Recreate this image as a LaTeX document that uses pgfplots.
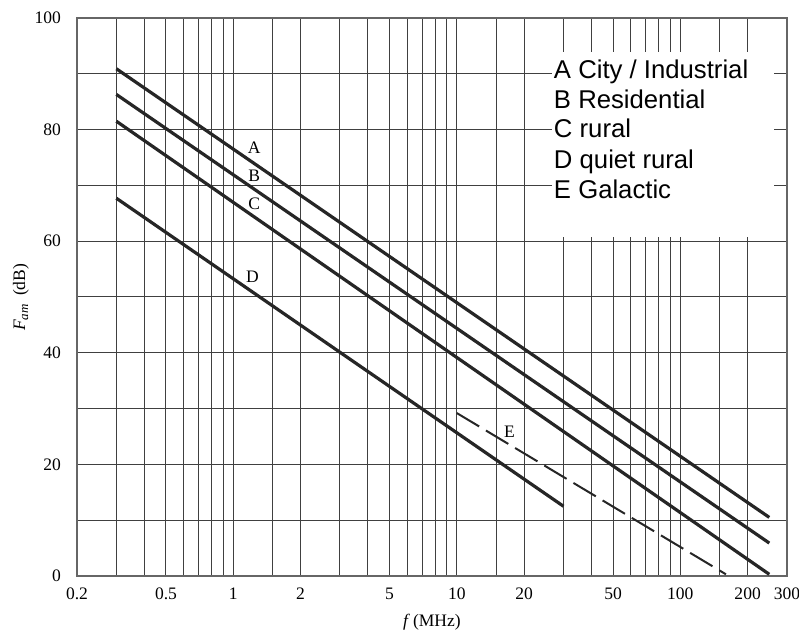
\documentclass[border=0pt]{standalone}
\usepackage{fontspec}
\setmainfont{Liberation Serif}
\newfontfamily\arialf{Liberation Sans}
\usepackage{pgfplots}
\pgfplotsset{compat=1.18}
\begin{document}
\begin{tikzpicture}
\begin{axis}[
  name=ax,
  scale only axis,
  width=355bp, height=279bp,
  xmode=log,
  xmin=0.2, xmax=300,
  ymin=0, ymax=100,
  xtick={0.2,0.5,1,2,5,10,20,50,100,200,300},
  xticklabels={0.2,0.5,1,2,5,10,20,50,100,200,300},
  minor xtick={0.3,0.4,0.6,0.7,0.8,0.9,1.5,3,4,6,7,8,9,15,30,40,60,70,80,90,150},
  ytick={0,20,40,60,80,100},
  minor ytick={10,30,50,70,90},
  grid=both,
  major grid style={black!75, line width=0.5bp},
  minor grid style={black!75, line width=0.5bp},
  axis line style={black!60, line width=0.6bp},
  major tick length=0pt, minor tick length=0pt,
  /pgf/number format/assume math mode=true,
  tick label style={font=\fontsize{8.8}{10}\selectfont},
  xticklabel style={yshift=-2.5bp},
  yticklabel style={xshift=-4.5bp},
  xlabel={\textit{f}\,(MHz)},
  ylabel={\textit{F}\kern-0.5pt\raisebox{-0.35ex}{\fontsize{6.5}{7}\selectfont\textit{am}}\ \ (dB)},
  label style={font=\fontsize{8.8}{10}\selectfont},
  xlabel style={at={(axis description cs:0.5,0)}, anchor=base, yshift=-25bp},
  ylabel style={at={(axis description cs:-0.0789,0.5)}, anchor=center},
  clip=false,
]
\addplot[black!85, line width=1.6bp] coordinates {(0.3,90.9) (250,10.5)};
\addplot[black!85, line width=1.6bp] coordinates {(0.3,86.3) (250,5.9)};
\addplot[black!85, line width=1.6bp] coordinates {(0.3,81.5) (250,0.3)};
\addplot[black!85, line width=1.6bp] coordinates {(0.3,67.7) (30,12.5)};
\addplot[black!85, line width=1.0bp, dash pattern=on 13bp off 4bp] coordinates {(10,29.2) (160,0.3)};
\fill[white] (axis cs:26.6,60.75) rectangle (axis cs:263,93.9);
\node[font=\fontsize{8.8}{10}\selectfont] at (axis cs:1.24,76.7) {A};
\node[font=\fontsize{8.8}{10}\selectfont] at (axis cs:1.24,71.7) {B};
\node[font=\fontsize{8.8}{10}\selectfont] at (axis cs:1.24,66.7) {C};
\node[font=\fontsize{8.8}{10}\selectfont] at (axis cs:1.22,53.6) {D};
\node[font=\fontsize{8.8}{10}\selectfont] at (axis cs:17.2,25.8) {E};
\node[font=\arialf\fontsize{12.9}{15}\selectfont, anchor=base west, inner sep=0pt] at (axis cs:27.1,89.2) {A City / Industrial};
\node[font=\arialf\fontsize{12.9}{15}\selectfont, anchor=base west, inner sep=0pt] at (axis cs:27.1,83.8) {B Residential};
\node[font=\arialf\fontsize{12.9}{15}\selectfont, anchor=base west, inner sep=0pt] at (axis cs:27.1,78.5) {C rural};
\node[font=\arialf\fontsize{12.9}{15}\selectfont, anchor=base west, inner sep=0pt] at (axis cs:27.1,73.1) {D quiet rural};
\node[font=\arialf\fontsize{12.9}{15}\selectfont, anchor=base west, inner sep=0pt] at (axis cs:27.1,67.7) {E Galactic};
\coordinate (sw) at (rel axis cs:0,0);
\coordinate (ne) at (rel axis cs:1,1);
\end{axis}
\pgfresetboundingbox
\path ([shift={(-38.5bp,-28bp)}]sw) rectangle ([shift={(6bp,9bp)}]ne);
\end{tikzpicture}
\end{document}
